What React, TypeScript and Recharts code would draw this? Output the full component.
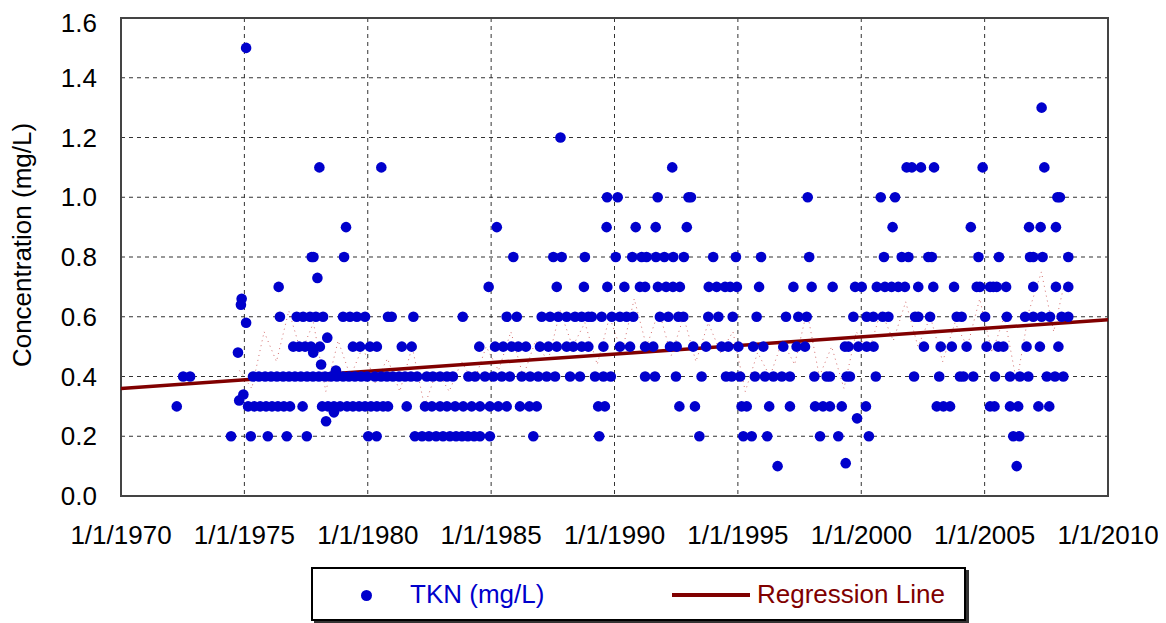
import { ComposedChart, Scatter, Line, XAxis, YAxis, CartesianGrid, ReferenceArea } from "recharts"

// sample dates (decimal years) grouped by reported TKN value (mg/L)
const tkn010 = [1996.61, 2006.3]
const tkn020 = [1974.46, 1975.26, 1975.95, 1976.72, 1977.53, 1980.02, 1980.36, 1981.91, 1982.2, 1982.48, 1982.77, 1983.05, 1983.33, 1983.58, 1983.82, 1984.06, 1984.31, 1984.55, 1984.95, 1986.71, 1989.38, 1993.44, 1995.22, 1995.56, 1996.19, 1998.33, 1999.07, 2000.31, 2006.16, 2006.41]
const tkn030 = [1972.26, 1975.15, 1975.4, 1975.64, 1975.88, 1976.12, 1976.36, 1976.6, 1976.85, 1977.36, 1978.15, 1978.39, 1978.63, 1978.88, 1979.16, 1979.4, 1979.65, 1979.89, 1980.13, 1980.37, 1980.62, 1980.82, 1981.58, 1982.32, 1982.6, 1982.93, 1983.21, 1983.54, 1983.87, 1984.21, 1984.55, 1984.95, 1985.29, 1985.63, 1986.17, 1986.55, 1986.85, 1989.34, 1989.61, 1992.63, 1993.26, 1995.15, 1995.36, 1996.27, 1997.11, 1998.13, 1998.45, 1998.73, 1999.21, 2000.19, 2003.06, 2003.33, 2003.6, 2005.22, 2005.4, 2006.03, 2006.36, 2007.18, 2007.62]
const tkn040 = [1972.52, 1972.8, 1975.35, 1975.59, 1975.84, 1976.08, 1976.32, 1976.57, 1976.81, 1977.05, 1977.29, 1977.54, 1977.78, 1978.02, 1978.27, 1978.51, 1978.75, 1979.0, 1979.24, 1979.48, 1979.73, 1979.97, 1980.29, 1980.54, 1980.78, 1981.02, 1981.27, 1981.51, 1981.75, 1982.0, 1982.39, 1982.64, 1982.93, 1983.21, 1983.45, 1984.08, 1984.35, 1984.75, 1985.09, 1985.43, 1985.76, 1986.24, 1986.58, 1986.91, 1987.25, 1987.59, 1988.2, 1988.6, 1989.21, 1989.55, 1989.85, 1991.24, 1991.64, 1992.49, 1993.53, 1994.52, 1994.75, 1995.09, 1995.69, 1996.1, 1996.44, 1996.78, 1997.11, 1998.1, 1998.6, 1998.73, 1999.41, 1999.54, 2000.59, 2002.14, 2003.16, 2004.0, 2004.14, 2004.54, 2005.42, 2006.03, 2006.43, 2006.77, 2007.52, 2007.85, 2008.19]
const tkn050 = [1976.98, 1977.22, 1977.46, 1977.7, 1978.06, 1979.4, 1979.69, 1980.09, 1980.37, 1981.38, 1981.78, 1984.52, 1985.16, 1985.49, 1985.83, 1986.1, 1986.41, 1986.98, 1987.32, 1987.66, 1988.06, 1988.33, 1988.67, 1988.94, 1989.55, 1990.22, 1990.63, 1991.24, 1991.57, 1992.25, 1992.52, 1993.19, 1993.71, 1994.34, 1994.61, 1995.02, 1995.62, 1996.03, 1996.84, 1997.38, 1997.72, 1999.34, 1999.48, 1999.88, 2000.22, 2000.5, 2002.54, 2003.22, 2003.67, 2004.27, 2005.08, 2005.55, 2005.76, 2006.7, 2007.24, 2007.99]
const tkn060 = [1976.44, 1977.12, 1977.38, 1977.66, 1977.9, 1978.19, 1979.0, 1979.28, 1979.56, 1979.89, 1980.82, 1980.97, 1981.85, 1983.85, 1985.63, 1986.04, 1987.05, 1987.39, 1987.72, 1988.06, 1988.4, 1988.67, 1988.94, 1989.08, 1989.48, 1989.89, 1990.22, 1990.49, 1990.76, 1991.84, 1992.18, 1992.59, 1992.79, 1993.8, 1994.21, 1994.79, 1995.76, 1996.95, 1997.45, 1997.79, 1999.68, 2000.22, 2000.49, 2000.87, 2001.1, 2002.18, 2002.31, 2002.79, 2003.87, 2004.07, 2005.02, 2005.9, 2006.64, 2006.97, 2007.31, 2007.65, 2008.12, 2008.39]
const tkn070 = [1976.39, 1984.9, 1987.66, 1988.76, 1989.71, 1990.4, 1991.03, 1991.24, 1991.76, 1992.09, 1992.37, 1992.65, 1993.82, 1994.14, 1994.48, 1994.69, 1994.96, 1995.86, 1997.25, 1997.99, 1998.84, 1999.75, 2000.02, 2000.63, 2000.96, 2001.23, 2001.5, 2001.77, 2002.31, 2002.92, 2003.76, 2004.68, 2004.81, 2005.22, 2005.35, 2005.49, 2005.87, 2006.97, 2007.89, 2008.39]
const tkn080 = [1977.73, 1977.8, 1979.04, 1985.9, 1987.52, 1987.86, 1988.8, 1990.05, 1990.72, 1991.1, 1991.3, 1991.68, 1992.02, 1992.38, 1992.81, 1994.0, 1994.92, 1995.94, 1997.89, 2000.92, 2001.64, 2001.91, 2002.72, 2002.86, 2004.75, 2005.58, 2006.84, 2006.97, 2007.35, 2008.39]
const tkn090 = [1979.12, 1985.23, 1989.68, 1990.86, 1991.67, 1992.93, 2001.27, 2004.44, 2006.8, 2007.27, 2007.89]
const tkn100 = [1989.7, 1990.13, 1991.75, 1993.0, 1993.1, 1997.83, 2000.79, 2001.37, 2007.95, 2008.05]
const tkn110 = [1978.04, 1980.55, 1992.34, 2001.84, 2002.05, 2002.42, 2002.95, 2004.92, 2007.42]
const tkn120 = [1987.81]
const tkn130 = [2007.31]
const tkn150 = [1975.07]

// samples reported at other values
const oddYears = [1974.79, 1974.96, 1974.74, 1975.07, 1974.86, 1974.89, 1977.96, 1978.11, 1977.79, 1978.36, 1978.31, 1978.63, 1978.71, 1999.83, 1999.37]
const oddValues = [0.32, 0.34, 0.48, 0.58, 0.64, 0.66, 0.73, 0.44, 0.48, 0.53, 0.25, 0.28, 0.42, 0.26, 0.11]

const regressionYears = [1970, 2010]
const regressionValues = [0.36, 0.59]

// faint dotted seasonal fit
const fitYears = [1974.8, 1975.3, 1975.8, 1976.3, 1976.8, 1977.3, 1977.8, 1978.3, 1978.8, 1979.3, 1979.8, 1980.3, 1980.8, 1981.3, 1981.8, 1982.3, 1982.8, 1983.3, 1983.8, 1984.3, 1984.8, 1985.3, 1985.8, 1986.3, 1986.8, 1987.3, 1987.8, 1988.3, 1988.8, 1989.3, 1989.8, 1990.3, 1990.8, 1991.3, 1991.8, 1992.3, 1992.8, 1993.3, 1993.8, 1994.3, 1994.8, 1995.3, 1995.8, 1996.3, 1996.8, 1997.3, 1997.8, 1998.3, 1998.8, 1999.3, 1999.8, 2000.3, 2000.8, 2001.3, 2001.8, 2002.3, 2002.8, 2003.3, 2003.8, 2004.3, 2004.8, 2005.3, 2005.8, 2006.3, 2006.8, 2007.3, 2007.8, 2008.2]
const fitValues = [0.42, 0.36, 0.55, 0.45, 0.62, 0.48, 0.58, 0.35, 0.52, 0.4, 0.5, 0.38, 0.46, 0.35, 0.5, 0.3, 0.42, 0.35, 0.45, 0.38, 0.5, 0.42, 0.55, 0.4, 0.52, 0.45, 0.62, 0.5, 0.58, 0.44, 0.6, 0.48, 0.66, 0.5, 0.62, 0.47, 0.6, 0.45, 0.58, 0.48, 0.55, 0.35, 0.48, 0.4, 0.52, 0.44, 0.62, 0.4, 0.5, 0.36, 0.55, 0.48, 0.62, 0.52, 0.65, 0.5, 0.6, 0.45, 0.58, 0.5, 0.66, 0.48, 0.6, 0.38, 0.62, 0.75, 0.55, 0.7]

const xTicks = [1970, 1975, 1980, 1985, 1990, 1995, 2000, 2005, 2010]
const yTicks = [0, 0.2, 0.4, 0.6, 0.8, 1.0, 1.2, 1.4, 1.6]

const at = (value: number, years: number[]) => years.map((year) => ({ year, value }))

const tknPoints = [
  ...at(0.1, tkn010), ...at(0.2, tkn020), ...at(0.3, tkn030), ...at(0.4, tkn040),
  ...at(0.5, tkn050), ...at(0.6, tkn060), ...at(0.7, tkn070), ...at(0.8, tkn080),
  ...at(0.9, tkn090), ...at(1.0, tkn100), ...at(1.1, tkn110), ...at(1.2, tkn120),
  ...at(1.3, tkn130), ...at(1.5, tkn150),
  ...oddYears.map((year, i) => ({ year, value: oddValues[i] })),
]
const regression = regressionYears.map((year, i) => ({ year, value: regressionValues[i] }))
const fit = fitYears.map((year, i) => ({ year, value: fitValues[i] }))

const FONT = '"Liberation Sans", Arial, sans-serif'
const BLUE = "#0000cc"
const MAROON = "#800000"

const Dot = (props: any) => <circle cx={props.cx} cy={props.cy} r={5.3} fill={BLUE} />

export default function App() {
  return (
    <div style={{ position: "relative", width: 1158, height: 615, fontFamily: FONT }}>
      <ComposedChart width={1158} height={548} margin={{ top: 10, right: 58, bottom: 0, left: 0 }}>
        <CartesianGrid stroke="#333" strokeDasharray="4 4" />
        <XAxis
          dataKey="year"
          type="number"
          domain={[1970, 2010]}
          ticks={xTicks}
          tickFormatter={(v) => `1/1/${v}`}
          axisLine={false}
          tickLine={false}
          tickSize={0}
          tickMargin={30}
          height={60}
          tick={{ fill: "#000", fontSize: 26, fontFamily: FONT }}
        />
        <YAxis
          dataKey="value"
          type="number"
          domain={[0, 1.6]}
          ticks={yTicks}
          tickFormatter={(v) => Number(v).toFixed(1)}
          axisLine={false}
          tickLine={false}
          tickSize={0}
          tickMargin={24}
          width={113}
          tick={{ fill: "#000", fontSize: 26, fontFamily: FONT }}
          label={{
            content: () => (
              <text
                x={14}
                y={237}
                transform="rotate(-90, 14, 237)"
                textAnchor="middle"
                dominantBaseline="central"
                fontSize={26}
                fontFamily={FONT}
                fill="#000"
              >
                Concentration (mg/L)
              </text>
            ),
          }}
        />
        <ReferenceArea x1={1970} x2={2010} y1={0} y2={1.6} fill="none" stroke="#444" strokeWidth={2} />
        <Line data={fit} dataKey="value" stroke="#c03030" strokeOpacity={0.7} strokeWidth={1} strokeDasharray="1 4" dot={false} activeDot={false} isAnimationActive={false} />
        <Line data={regression} dataKey="value" stroke={MAROON} strokeWidth={3.5} dot={false} activeDot={false} isAnimationActive={false} />
        <Scatter data={tknPoints} dataKey="value" shape={Dot} isAnimationActive={false} />
      </ComposedChart>

      <div
        style={{
          position: "absolute",
          left: 303,
          top: 559,
          width: 651,
          height: 50,
          border: "2px solid #000",
          boxShadow: "3px 3px 0 #333",
          background: "#fff",
          fontSize: 26,
        }}
      >
        <div style={{ position: "absolute", left: 48, top: 21, width: 11, height: 11, borderRadius: "50%", background: BLUE }} />
        <div style={{ position: "absolute", left: 97, top: 10, color: BLUE, lineHeight: "30px" }}>TKN (mg/L)</div>
        <div style={{ position: "absolute", left: 359, top: 24, width: 78, height: 4, background: MAROON }} />
        <div style={{ position: "absolute", left: 444, top: 10, color: MAROON, lineHeight: "30px" }}>Regression Line</div>
      </div>
    </div>
  )
}
